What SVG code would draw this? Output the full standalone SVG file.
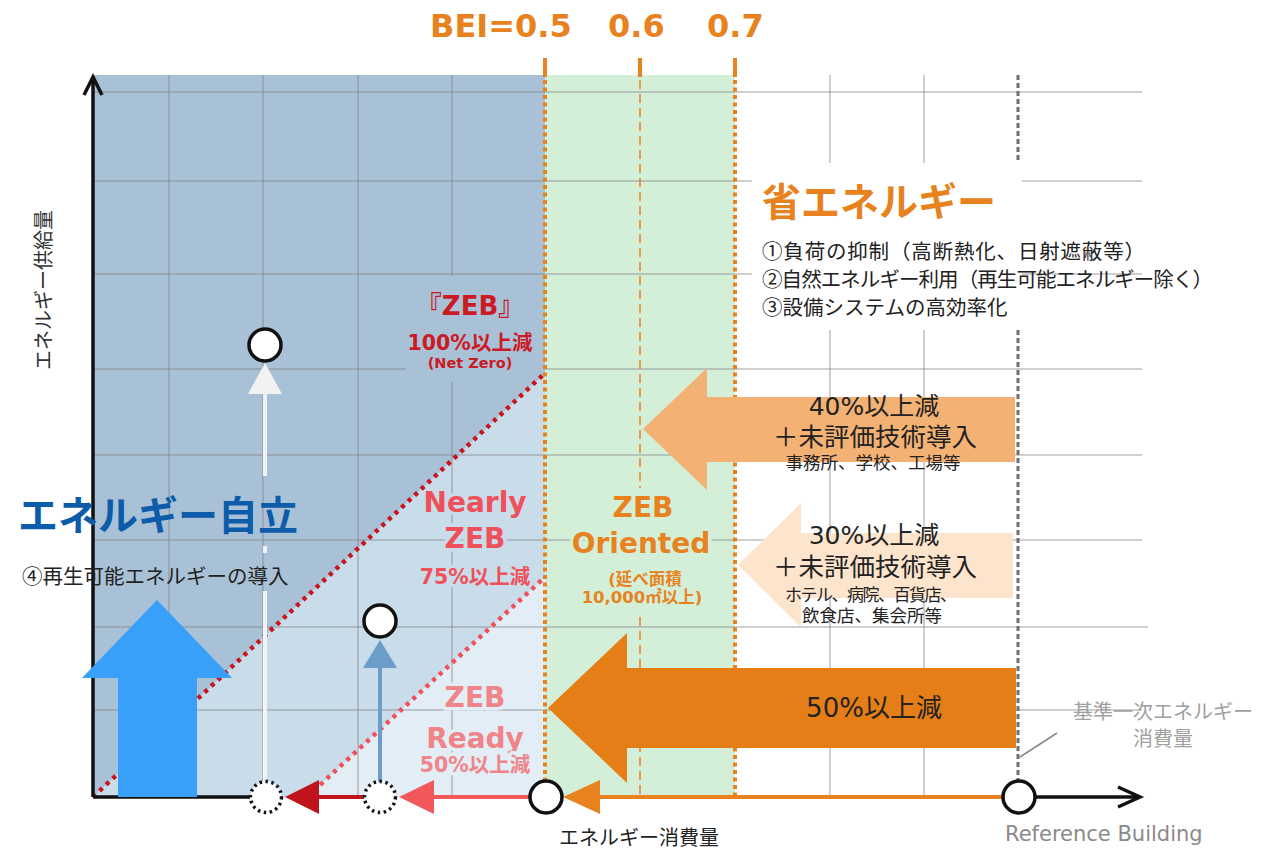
<svg xmlns="http://www.w3.org/2000/svg" width="1269" height="852" viewBox="0 0 1269 852">
<defs>
<style>
.jp{font-family:'DejaVu Sans','Noto Sans CJK JP',sans-serif}
.cjk{font-family:'Noto Sans CJK JP',sans-serif}
.b{font-weight:bold}
.mid{text-anchor:middle}
.grid{stroke:#808080;stroke-opacity:.5;stroke-width:1.5;fill:none}
.odot{stroke:#e8821e;stroke-width:4;stroke-dasharray:4 3.5;fill:none}
.circ{fill:#fff;stroke:#111;stroke-width:3.5}
.dcirc{fill:#fff;stroke:#111;stroke-width:3.5;stroke-dasharray:2.5 3.5}
.halo-mid{stroke:#c9dcea;stroke-width:7;stroke-linejoin:round;paint-order:stroke}
.halo-light{stroke:#e2edf5;stroke-width:7;stroke-linejoin:round;paint-order:stroke}
.halo-green{stroke:#d4efd8;stroke-width:7;stroke-linejoin:round;paint-order:stroke}
.dark{fill:#222}
</style>
</defs>
<rect x="0" y="0" width="1269" height="852" fill="#fff"/>

<g id="regions">
<rect x="93" y="75" width="452" height="722" fill="#a9c1d6"/>
<polygon points="93,797 545,373 545,797" fill="#c9dcea"/>
<polygon points="307,797 545,577 545,797" fill="#e2edf5"/>
<rect x="545" y="75" width="190" height="722" fill="#d4efd8"/>
</g>

<g id="grid" class="grid">
<path d="M93,92H1142M93,181H1142M93,274H1142M93,369H1142M93,455H1142M93,540H1142M93,627H1148M93,710H1142"/>
<path d="M169,75V797M263,75V797M358,75V797M452,75V797M830,75V797M924,75V797"/>
</g>
<rect x="752" y="163" width="270" height="167" fill="#fff"/>
<polygon points="406,276 544,276 544,374 535,382 406,382" fill="#a9c1d6"/>

<g id="bei-lines">
<rect x="543" y="58" width="4" height="19" fill="#e8821e"/>
<rect x="638" y="58" width="4" height="19" fill="#e8821e"/>
<rect x="733" y="58" width="4" height="19" fill="#e8821e"/>
<path class="odot" d="M545,80V795M735,80V795"/>
<path d="M640,80V488M640,617V795" stroke="#e8821e" stroke-width="1.5" stroke-dasharray="9 5" fill="none"/>
<path d="M1018,75V163M1018,330V782" stroke="#6e6e6e" stroke-width="3" stroke-dasharray="5 3" fill="none"/>
</g>

<g id="node-bei-labels" class="b" font-family="'DejaVu Sans',sans-serif" font-size="32" fill="#e8821e">
<text x="430" y="37">BEI=0.5</text>
<text x="608" y="37">0.6</text>
<text x="707" y="37">0.7</text>
</g>

<g id="node-arrow-50">
<polygon points="548,708 627,633 627,668 1016,668 1016,748 627,748 627,783" fill="#e67e17"/>
<text class="jp dark mid" x="874" y="717" font-size="26">50%以上減</text>
</g>
<g id="node-arrow-40">
<polygon points="643,429 707,368 707,397 1015,397 1015,462 707,462 707,490" fill="#f3b173"/>
<text class="jp dark mid" x="874" y="415" font-size="25">40%以上減</text>
<text class="cjk dark mid" x="875" y="446" font-size="25.5">＋未評価技術導入</text>
<text class="cjk dark mid" x="873" y="469" font-size="17.5">事務所、学校、工場等</text>
</g>
<g id="node-arrow-30">
<polygon points="738,565 801,503 801,533 1013,533 1013,598 801,598 801,627" fill="#fde4cc"/>
<text class="jp dark mid" x="874" y="544" font-size="25">30%以上減</text>
<text class="cjk dark mid" x="875" y="576" font-size="25.5">＋未評価技術導入</text>
<text class="cjk dark mid" x="871" y="601" font-size="17" textLength="172">ホテル、病院、百貨店、</text>
<text class="cjk dark mid" x="872" y="622" font-size="17.5">飲食店、集会所等</text>
</g>

<g id="node-zeb" class="jp b mid" fill="#cc1a24">
<text x="470" y="315" font-size="26">『ZEB』</text>
<text x="470" y="350" font-size="20.5">100%以上減</text>
<text x="470" y="368" font-size="14.5">(Net Zero)</text>
</g>
<g id="node-nearly-zeb" class="jp b mid halo-mid" fill="#f0505a">
<text x="475" y="512" font-size="28">Nearly</text>
<text x="475" y="548" font-size="28">ZEB</text>
<text x="475" y="584" font-size="20.5">75%以上減</text>
</g>
<g id="node-zeb-ready" class="jp b mid halo-light" fill="#f08488">
<text x="475" y="707" font-size="28">ZEB</text>
<text x="475" y="748" font-size="28">Ready</text>
<text x="475" y="772" font-size="20.5">50%以上減</text>
</g>
<g id="node-zeb-oriented" class="jp b mid halo-green" fill="#e8821e">
<text x="643" y="517" font-size="28">ZEB</text>
<text x="641" y="553" font-size="28">Oriented</text>
<text x="645" y="585" font-size="16.5">(延べ面積</text>
<text x="642" y="603" font-size="16.5">10,000㎡以上)</text>
</g>

<g id="connectors">
<path d="M93,797L545,373" stroke="#c8141e" stroke-width="4.5" stroke-dasharray="4 5" fill="none"/>
<path d="M307,797L545,577" stroke="#f0505a" stroke-width="4.5" stroke-dasharray="4 5" fill="none"/>
<path d="M93,797H250" stroke="#111" stroke-width="3.5"/>
<path d="M93,797V78" stroke="#111" stroke-width="3.5"/>
<polyline points="84,95 93,77 102,95" stroke="#111" stroke-width="3.5" fill="none"/>
<polygon points="157,600 232,678 197,678 197,797 118,797 118,678 82,678" fill="#38a0f8"/>
<path d="M265,392V476M265,546V553M265,591V782" stroke="#f2f2f2" stroke-width="4"/>
<polygon points="265,363 282,394 248,394" fill="#f2f2f2"/>
<path d="M380,666V782" stroke="#6b9dc8" stroke-width="4"/>
<polygon points="380,640 397,668 363,668" fill="#6b9dc8"/>
<path d="M316,797H364" stroke="#c0141c" stroke-width="4"/>
<polygon points="285,797 319,780 319,814" fill="#c0141c"/>
<path d="M432,797H530" stroke="#f0585a" stroke-width="4"/>
<polygon points="399,797 434,780 434,814" fill="#f0585a"/>
<path d="M598,797H1003" stroke="#e8821e" stroke-width="4"/>
<polygon points="563,797 600,780 600,814" fill="#e8821e"/>
<path d="M1035,797H1138" stroke="#111" stroke-width="3.5"/>
<polyline points="1118,787 1140,797 1118,807" stroke="#111" stroke-width="3.5" fill="none"/>
<path d="M1020,757L1057,733" stroke="#888" stroke-width="1.5"/>
</g>

<g id="node-circles">
<circle class="circ" cx="265" cy="345" r="16"/>
<circle class="circ" cx="380" cy="621" r="16"/>
<circle class="dcirc" cx="266" cy="797" r="15.5"/>
<circle class="dcirc" cx="380" cy="797" r="15.5"/>
<circle class="circ" cx="546" cy="797" r="16"/>
<circle class="circ" cx="1019" cy="797" r="16"/>
</g>

<g id="node-shou-energy" class="cjk">
<text x="762" y="216" font-size="39" font-weight="bold" fill="#e8821e">省エネルギー</text>
<text x="762" y="259" font-size="20.5" fill="#222" textLength="383">①負荷の抑制（高断熱化、日射遮蔽等）</text>
<text x="762" y="287" font-size="20.5" fill="#222" textLength="451">②自然エネルギー利用（再生可能エネルギー除く）</text>
<text x="762" y="315" font-size="20.5" fill="#222">③設備システムの高効率化</text>
</g>

<g id="node-jiritsu" class="cjk">
<text x="18" y="530" font-size="40" font-weight="bold" fill="#0d5ca9">エネルギー自立</text>
<text x="22" y="584" font-size="20.5" fill="#222">④再生可能エネルギーの導入</text>
</g>

<g id="node-axis-labels">
<text class="cjk mid" transform="translate(51,290) rotate(-90)" font-size="20" fill="#333">エネルギー供給量</text>
<text class="cjk" x="559" y="845" font-size="20" fill="#222">エネルギー消費量</text>
<text class="cjk" x="1073" y="719" font-size="20" fill="#a0a0a0">基準一次エネルギー</text>
<text class="cjk mid" x="1163" y="746" font-size="20" fill="#a0a0a0">消費量</text>
<text x="1005" y="841" font-size="21" fill="#8a8a8a" font-family="'DejaVu Sans',sans-serif">Reference Building</text>
</g>
</svg>
